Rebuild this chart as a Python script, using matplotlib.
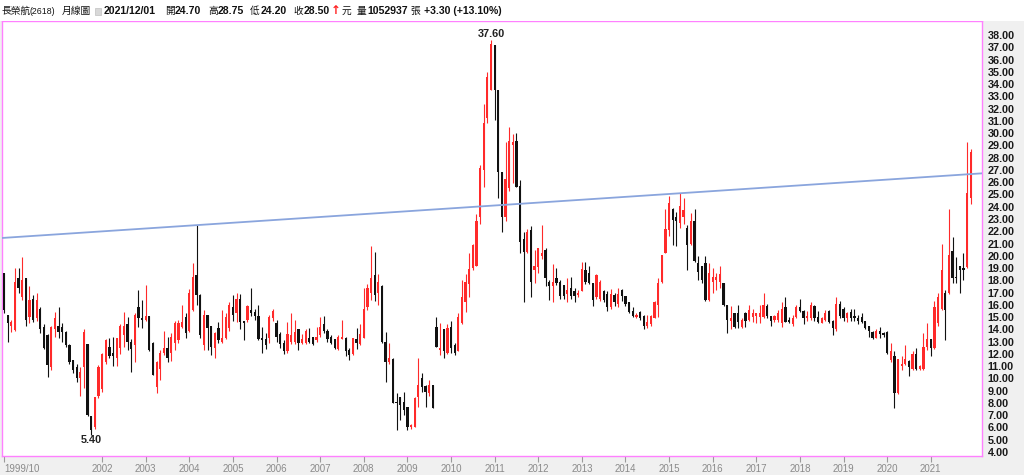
import numpy as np
import matplotlib
matplotlib.use("Agg")
import matplotlib.pyplot as plt
from matplotlib.patches import Rectangle

plt.rcParams['font.family'] = ['Liberation Sans', 'Noto Sans CJK TC', 'DejaVu Sans']

# EVA Airways (2618) monthly candles, 1999/10 .. 2021/12
opens = [
    18.6, 15.2, 14.3,                                                     # 1999
    13.95, 18.2, 16.6, 18.2, 15.0, 16.5, 14.9, 15.7, 14.2, 13.5, 10.9, 14.0,  # 2000
    14.3, 14.2, 13.8, 12.7, 11.5, 10.9, 10.0, 10.9, 12.8, 6.9, 6.0, 8.6,      # 2001
    9.1, 11.3, 12.6, 12.1, 11.7, 12.5, 13.5, 14.4, 13.0, 12.7, 15.8, 14.9,    # 2002
    14.8, 15.1, 12.9, 9.3, 10.8, 12.1, 12.5, 12.1, 12.9, 13.1, 14.2, 15.0,    # 2003
    13.9, 15.6, 18.4, 16.8, 12.7, 15.2, 14.3, 12.5, 14.1, 13.0, 13.3, 14.1,   # 2004
    15.8, 15.3, 16.5, 14.7, 14.8, 15.6, 15.4, 15.1, 13.3, 13.2, 13.3, 14.9,   # 2005
    14.5, 13.6, 12.9, 12.2, 13.0, 13.0, 14.0, 12.9, 12.9, 13.3, 13.4, 13.1,   # 2006
    13.5, 14.4, 13.9, 13.4, 13.2, 12.4, 13.2, 13.3, 12.3, 12.0, 13.2, 12.8,   # 2007
    13.3, 15.8, 17.0, 18.4, 17.0, 17.5, 13.0, 11.3, 11.6, 8.1, 8.5, 8.1,      # 2008
    7.7, 6.0, 6.0, 8.5, 10.0, 9.4, 8.8, 9.5, 14.2, 12.3, 14.0, 12.1,          # 2009
    14.2, 12.7, 12.2, 14.5, 16.2, 17.7, 19.0, 19.2, 23.2, 27.0, 31.2, 33.5,   # 2010
    37.2, 33.5, 26.8, 23.2, 25.5, 29.0, 29.4, 25.7, 21.4, 20.3, 22.1, 18.8,   # 2011
    19.1, 20.0, 20.5, 17.9, 17.5, 18.2, 17.9, 17.6, 16.9, 17.4, 17.1, 16.8,   # 2012
    17.1, 18.8, 18.6, 17.8, 16.6, 16.5, 17.1, 16.9, 15.8, 16.8, 16.1, 17.2,   # 2013
    16.7, 16.2, 15.5, 15.0, 15.4, 15.1, 14.3, 14.4, 14.9, 16.0, 17.9, 20.2,   # 2014
    22.1, 23.8, 23.2, 22.7, 23.2, 22.3, 21.0, 22.8, 19.4, 19.2, 19.4, 16.4,   # 2015
    17.9, 18.0, 17.9, 17.8, 16.0, 14.7, 15.3, 15.3, 14.2, 15.3, 14.8, 15.0,   # 2016
    15.1, 15.0, 15.0, 15.9, 15.1, 14.8, 14.8, 14.5, 15.8, 14.8, 14.4, 15.0,   # 2017
    15.8, 15.5, 14.9, 14.9, 15.9, 15.0, 14.5, 14.8, 15.5, 14.7, 14.0, 16.1,   # 2018
    15.7, 14.9, 15.4, 15.1, 14.9, 15.0, 14.7, 14.3, 13.8, 13.3, 13.9, 13.7,   # 2019
    13.8, 11.5, 11.8, 8.8, 11.0, 11.2, 11.4, 10.8, 12.0, 10.8, 10.8, 12.6,    # 2020
    13.2, 12.5, 14.5, 15.7, 17.0, 17.0, 20.4, 18.3, 19.2, 19.0, 19.1, 24.7,   # 2021
]
highs = [
    18.6, 15.2, 14.8,
    19.0, 19.0, 19.9, 18.2, 17.5, 16.8, 17.0, 15.8, 14.4, 13.6, 14.3, 15.4,
    15.8, 14.5, 13.9, 12.8, 11.5, 11.2, 10.9, 14.0, 12.8, 6.9, 8.5, 11.1,
    12.1, 13.2, 13.3, 13.4, 13.3, 14.4, 15.4, 15.0, 13.2, 15.3, 17.2, 16.4,
    17.6, 15.1, 13.0, 11.4, 12.3, 13.9, 13.4, 13.7, 14.7, 14.8, 16.0, 15.3,
    17.3, 19.4, 22.5, 16.9, 15.6, 15.2, 14.3, 13.8, 14.6, 15.6, 15.3, 16.2,
    16.8, 17.0, 16.9, 14.7, 16.0, 17.4, 15.7, 16.0, 14.2, 13.7, 15.2, 15.7,
    14.8, 13.8, 13.1, 14.6, 15.3, 14.8, 14.0, 13.6, 14.0, 14.1, 13.4, 14.2,
    15.0, 15.1, 14.0, 13.5, 13.2, 13.5, 14.8, 13.4, 12.5, 13.3, 14.1, 14.4,
    17.4, 17.7, 20.8, 20.3, 18.5, 17.6, 13.8, 12.9, 11.7, 8.8, 8.5, 8.9,
    7.7, 6.3, 8.5, 11.7, 10.4, 9.5, 9.9, 9.5, 15.0, 14.5, 14.0, 14.4,
    14.7, 12.9, 15.3, 18.0, 18.5, 20.2, 21.0, 23.4, 27.4, 32.4, 35.0, 37.6,
    37.2, 33.5, 26.8, 29.3, 30.5, 29.9, 30.0, 26.2, 21.9, 22.2, 22.4, 20.5,
    20.6, 22.5, 20.6, 18.0, 19.3, 19.0, 18.0, 17.6, 18.2, 18.3, 17.4, 17.2,
    19.5, 19.5, 19.2, 17.8, 18.5, 18.0, 17.2, 17.1, 17.3, 17.0, 17.4, 17.3,
    16.7, 16.2, 15.8, 15.3, 15.5, 15.2, 15.2, 15.2, 16.3, 18.2, 20.1, 23.8,
    24.9, 23.9, 23.6, 25.1, 24.7, 22.5, 23.5, 23.8, 20.0, 19.2, 20.0, 19.4,
    19.0, 18.6, 19.2, 17.8, 16.0, 15.9, 15.3, 16.0, 14.9, 15.4, 16.0, 15.7,
    15.3, 16.0, 17.0, 16.1, 15.1, 15.2, 15.6, 16.2, 16.6, 15.0, 15.2, 16.0,
    16.5, 15.6, 15.5, 16.2, 16.0, 15.5, 15.0, 15.6, 15.6, 14.8, 16.6, 16.3,
    15.8, 15.4, 15.7, 15.7, 15.2, 15.3, 14.7, 14.3, 13.9, 14.0, 14.2, 13.8,
    13.9, 12.9, 12.2, 11.6, 11.8, 12.7, 11.5, 12.2, 12.5, 11.1, 13.7, 14.5,
    13.2, 16.3, 17.0, 21.0, 17.2, 23.8, 21.5, 19.9, 19.2, 20.2, 29.3, 28.75,
]
lows = [
    15.3, 13.0, 13.8,
    13.9, 17.0, 16.4, 14.3, 14.5, 14.6, 14.7, 13.7, 12.4, 10.1, 10.7, 13.4,
    13.3, 13.0, 12.6, 11.2, 10.4, 9.7, 8.6, 9.2, 6.9, 5.4, 5.9, 8.4,
    8.9, 11.2, 11.7, 11.0, 11.0, 12.0, 12.6, 12.3, 10.5, 11.3, 14.2, 14.1,
    14.7, 12.2, 10.3, 8.8, 9.9, 11.9, 11.3, 11.4, 12.3, 12.9, 14.1, 13.3,
    13.8, 15.5, 16.0, 13.3, 12.3, 12.3, 11.9, 11.7, 12.9, 12.9, 13.2, 13.9,
    14.7, 14.6, 14.0, 13.1, 14.6, 15.1, 14.8, 13.1, 12.1, 12.4, 12.9, 14.7,
    13.0, 12.5, 12.0, 12.1, 12.8, 12.8, 12.3, 12.8, 12.8, 12.9, 12.7, 13.0,
    13.4, 13.7, 13.0, 12.8, 12.4, 12.3, 13.2, 11.8, 11.5, 11.9, 12.4, 12.7,
    13.3, 15.6, 16.4, 16.3, 16.0, 12.9, 9.7, 11.2, 8.0, 5.8, 6.6, 7.0,
    5.8, 5.9, 6.0, 7.7, 8.9, 7.7, 8.6, 7.6, 12.6, 11.9, 11.7, 12.0,
    12.1, 11.9, 12.2, 14.4, 15.4, 16.6, 18.8, 19.2, 22.6, 25.6, 30.8, 33.5,
    31.1, 24.7, 21.9, 22.8, 25.3, 25.9, 25.6, 20.2, 16.2, 20.2, 16.6, 17.8,
    18.6, 19.7, 17.5, 16.4, 16.2, 17.6, 16.5, 16.5, 16.2, 16.5, 16.2, 16.6,
    17.1, 17.7, 17.7, 15.9, 16.5, 16.3, 16.2, 15.5, 15.7, 15.9, 15.8, 16.3,
    15.9, 15.3, 15.0, 14.9, 14.8, 14.0, 14.1, 14.3, 14.9, 15.0, 17.8, 20.2,
    21.6, 20.9, 20.8, 22.3, 22.6, 18.8, 20.9, 19.5, 18.0, 17.8, 16.3, 16.3,
    17.0, 17.2, 17.4, 15.9, 13.7, 14.0, 14.1, 14.1, 14.1, 14.2, 14.7, 14.6,
    14.5, 14.5, 14.9, 14.9, 14.3, 14.6, 14.6, 14.2, 14.6, 14.5, 14.3, 14.9,
    15.4, 14.4, 14.7, 14.8, 14.7, 14.5, 14.5, 14.7, 14.5, 13.5, 13.9, 14.9,
    14.7, 14.6, 14.7, 14.7, 14.4, 14.5, 14.0, 13.4, 13.2, 13.3, 13.3, 13.4,
    12.0, 11.3, 7.6, 8.7, 10.7, 11.1, 10.2, 10.7, 10.7, 10.7, 10.7, 12.3,
    11.8, 12.4, 14.3, 15.6, 13.1, 16.9, 17.8, 17.8, 17.0, 18.0, 19.0, 24.2,
]
closes = [
    15.6, 14.5, 14.6,
    17.9, 17.4, 18.0, 14.8, 16.4, 14.8, 16.4, 14.0, 12.5, 11.1, 14.2, 14.9,
    13.8, 13.8, 12.7, 11.3, 10.7, 10.0, 10.5, 13.8, 7.0, 5.8, 8.5, 10.9,
    12.0, 13.1, 11.8, 11.8, 13.3, 14.3, 14.3, 13.0, 12.4, 15.2, 14.9, 14.8,
    15.1, 12.3, 10.3, 11.3, 12.1, 12.5, 11.7, 13.4, 14.5, 14.5, 14.6, 13.7,
    17.0, 18.3, 16.8, 13.5, 15.2, 14.1, 12.6, 13.7, 13.1, 13.3, 15.0, 16.0,
    15.2, 16.5, 14.6, 14.5, 15.9, 15.3, 15.1, 13.2, 13.1, 12.7, 15.0, 15.5,
    13.4, 12.8, 12.2, 13.6, 13.5, 13.8, 12.9, 13.2, 13.9, 13.0, 12.8, 13.4,
    14.2, 13.9, 13.2, 12.9, 12.5, 13.4, 13.4, 12.2, 11.9, 13.3, 12.9, 13.6,
    15.7, 17.4, 18.2, 16.8, 17.9, 13.0, 11.3, 11.7, 8.0, 8.0, 7.8, 7.4,
    6.0, 6.2, 8.4, 9.5, 9.3, 8.9, 9.5, 7.6, 12.6, 12.5, 12.2, 14.1,
    12.5, 12.1, 15.0, 16.6, 17.9, 18.9, 20.9, 22.8, 27.2, 30.8, 34.6, 37.3,
    33.5, 26.8, 23.2, 26.3, 29.4, 29.3, 25.6, 21.1, 20.3, 21.9, 17.9, 19.2,
    20.6, 20.2, 18.2, 17.5, 17.9, 17.8, 16.7, 16.7, 17.2, 16.7, 16.7, 17.0,
    18.9, 17.9, 17.8, 16.4, 18.4, 17.9, 16.4, 15.8, 16.9, 16.2, 16.9, 16.7,
    16.1, 15.4, 15.1, 15.2, 14.9, 14.3, 14.6, 15.1, 16.2, 17.8, 20.1, 22.2,
    24.3, 22.9, 22.8, 24.1, 23.7, 20.9, 22.8, 19.6, 18.7, 18.0, 16.4, 18.6,
    18.3, 18.3, 18.5, 16.0, 14.8, 14.9, 14.2, 14.6, 14.8, 14.7, 15.6, 15.3,
    15.3, 15.3, 16.0, 15.1, 14.7, 15.1, 15.3, 15.7, 14.6, 14.6, 14.9, 15.8,
    15.5, 14.9, 15.1, 16.0, 14.9, 14.6, 14.9, 15.3, 14.6, 14.1, 16.1, 15.1,
    14.9, 15.3, 14.9, 14.9, 14.7, 14.6, 14.1, 13.9, 13.3, 13.9, 13.6, 13.5,
    12.1, 12.2, 8.8, 11.6, 11.2, 11.6, 10.9, 12.0, 10.8, 11.0, 12.6, 13.2,
    12.5, 15.8, 16.6, 18.8, 15.6, 20.1, 18.2, 18.2, 18.8, 18.8, 25.1, 28.5,
]

# x-axis labels (first label is the first month, the others are January of each year)
tick_labels = ["1999/10"] + [str(y) for y in range(2002, 2022)]
# long-term resistance line through the 2004/03 and 2015/04 highs
trend_months = ["2004/03", "2015/04"]
trend_values = [22.5, 25.1]
peak_label, trough_label = "37.60", "5.40"


def month_index(s):
    parts = s.split("/")
    y = int(parts[0])
    m = int(parts[1]) if len(parts) > 1 else 1
    return (y - 1999) * 12 + m - 10


RED = "#ff2a2a"
BLACK = "#111111"
PINK = "#ff80ff"

W, H = 1024, 475
fig = plt.figure(figsize=(W / 100, H / 100), dpi=100, facecolor="#f0f0f0")
fig.patches.append(Rectangle((0, 1 - 21 / H), 1, 21 / H, transform=fig.transFigure,
                             facecolor="white", edgecolor="none", zorder=0))

ax = fig.add_axes([2 / W, 19 / H, 980 / W, 435 / H])
ax.set_facecolor("white")

o = np.array(opens)
h = np.array(highs)
l = np.array(lows)
c = np.array(closes)
x = np.arange(len(c))
col = np.where(c >= o, RED, BLACK)

ax.vlines(x, l, h, colors=col, linewidth=0.8, zorder=2)
ax.bar(x, np.maximum(np.abs(c - o), 0.1), bottom=np.minimum(o, c), width=0.62,
       color=col, linewidth=0, zorder=3)

ax.axline((month_index(trend_months[0]), trend_values[0]),
          (month_index(trend_months[1]), trend_values[1]),
          color="#8aa5dd", linewidth=1.3, zorder=4)

# peak / trough labels
ipk = int(np.argmax(h))
itr = int(np.argmin(l))
ax.annotate(peak_label, (ipk, h[ipk]), xytext=(0, 4), textcoords="offset points",
            ha="center", va="center", fontsize=7.8, fontweight="bold", color="#222222")
ax.annotate(trough_label, (itr, l[itr]), xytext=(0, -4), textcoords="offset points",
            ha="center", va="center", fontsize=7.8, fontweight="bold", color="#222222")

ax.set_xlim(-0.55, 269.1)
ax.set_ylim(3.67, 39.15)

ax.yaxis.tick_right()
ax.set_yticks(np.arange(4, 39))
ax.set_yticklabels([f"{v:.2f}" for v in np.arange(4, 39)])
ax.tick_params(axis="y", length=0, pad=4, labelsize=7.8, labelcolor="#1a1a1a")
for t in ax.get_yticklabels():
    t.set_fontweight("bold")

ax.set_xticks([month_index(s) for s in tick_labels])
ax.set_xticklabels(tick_labels)
ax.tick_params(axis="x", direction="out", length=4, width=0.8, color="#9a9a9a",
               pad=2, labelsize=7, labelcolor="#8a8a8a")
ax.get_xticklabels()[0].set_horizontalalignment("left")

for s in ax.spines.values():
    s.set_color(PINK)
    s.set_linewidth(1.0)

# header line
def head(px, txt, **kw):
    fig.text(px / W, 1 - 11 / H, txt, va="center", ha="left", **kw)

num = dict(fontsize=7.6, fontweight="bold", color="#111111")
cjk = dict(fontsize=7, color="#111111", family=["Noto Sans CJK TC", "DejaVu Sans"])
head(2, "長榮航", **cjk)
head(30, "(2618)", fontsize=6.3, color="#111111")
head(62, "月線圖", **cjk)
fig.patches.append(Rectangle((95 / W, 1 - 15 / H), 6 / W, 7 / H, transform=fig.transFigure,
                             facecolor="#d8d8d8", edgecolor="#c0c0c0", linewidth=0.5))
head(104, "2021/12/01", **num)
head(165, "開", **cjk)
head(175, "24.70", **num)
head(208, "高", **cjk)
head(218, "28.75", **num)
head(250, "低", **cjk)
head(261, "24.20", **num)
head(293, "收", **cjk)
head(304, "28.50", **num)
head(331, "↑", fontsize=8.5, fontweight="bold", color="#ff2020", family=["DejaVu Sans"])
head(342, "元", **cjk)
head(357, "量", **cjk)
head(367, "1052937", **num)
head(410, "張", **cjk)
head(424, "+3.30 (+13.10%)", **num)

fig.savefig("out.png", dpi=100, facecolor=fig.get_facecolor())
